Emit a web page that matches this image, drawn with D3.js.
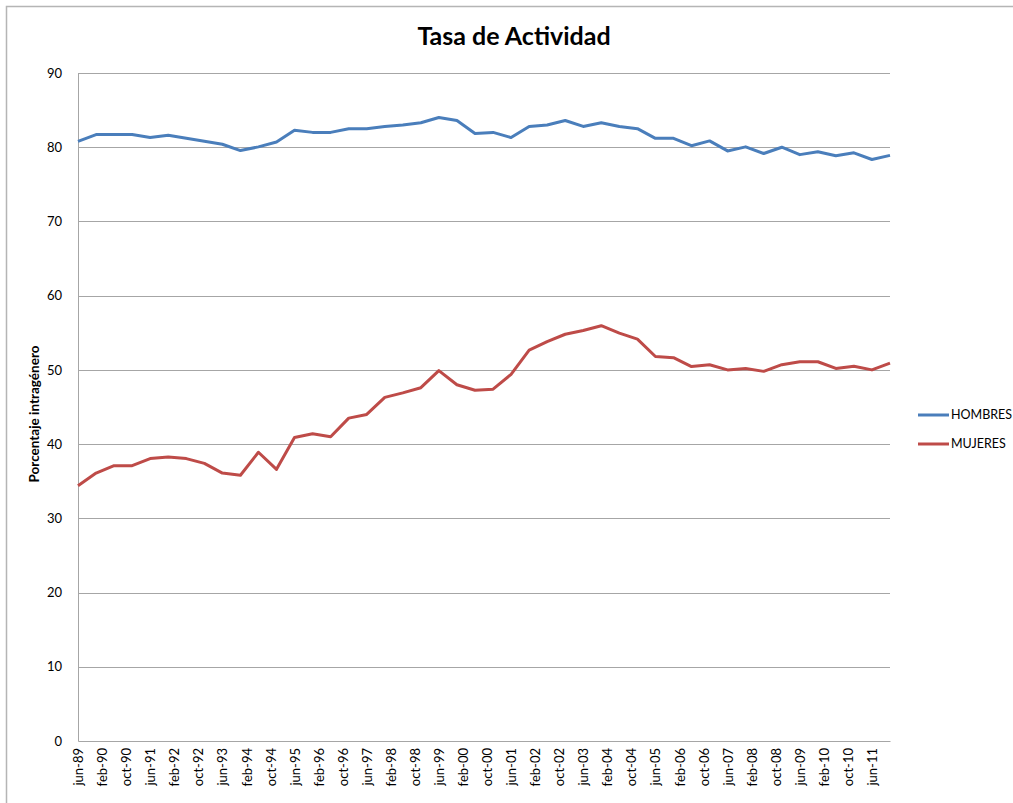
<!DOCTYPE html>
<html>
<head>
<meta charset="utf-8">
<script src="https://cdn.jsdelivr.net/npm/d3@7"></script>
<style>
  html, body { margin: 0; padding: 0; background: #fff; }
  svg { display: block; font-family: Lato, "Open Sans", sans-serif; }
</style>
</head>
<body>
<svg id="chart" width="1013" height="803"></svg>
<script>
// ---- data ----
const periods = [
  "jun-89","dic-89","jun-90","dic-90","jun-91","dic-91","jun-92","dic-92",
  "jun-93","dic-93","jun-94","dic-94","jun-95","dic-95","jun-96","dic-96",
  "jun-97","dic-97","jun-98","dic-98","jun-99","dic-99","jun-00","dic-00",
  "jun-01","dic-01","jun-02","dic-02","jun-03","dic-03","jun-04","dic-04",
  "jun-05","dic-05","jun-06","dic-06","jun-07","dic-07","jun-08","dic-08",
  "jun-09","dic-09","jun-10","dic-10","jun-11","dic-11"
];
const hombres = [
  80.8, 81.7, 81.7, 81.7, 81.3, 81.6, 81.2, 80.8, 80.4, 79.55,
  80.05, 80.7, 82.3, 82.0, 82.0, 82.5, 82.5, 82.8, 83.0, 83.3,
  84.0, 83.6, 81.85, 82.0, 81.3, 82.8, 83.0, 83.6, 82.8, 83.3,
  82.8, 82.5, 81.2, 81.2, 80.2, 80.85, 79.5, 80.05, 79.15, 80.0,
  79.0, 79.4, 78.85, 79.25, 78.35, 78.9
];
const mujeres = [
  34.4, 36.1, 37.1, 37.1, 38.05, 38.25, 38.05, 37.4, 36.1, 35.8,
  38.9, 36.6, 40.9, 41.4, 41.0, 43.5, 44.0, 46.3, 46.9, 47.6,
  49.9, 48.0, 47.25, 47.4, 49.4, 52.65, 53.8, 54.8, 55.3, 55.95,
  54.95, 54.15, 51.8, 51.65, 50.45, 50.7, 50.0, 50.2, 49.8, 50.7,
  51.1, 51.1, 50.2, 50.5, 50.0, 50.9
];
const tickLabels = [
  "jun-89","feb-90","oct-90","jun-91","feb-92","oct-92","jun-93","feb-94",
  "oct-94","jun-95","feb-96","oct-96","jun-97","feb-98","oct-98","jun-99",
  "feb-00","oct-00","jun-01","feb-02","oct-02","jun-03","feb-04","oct-04",
  "jun-05","feb-06","oct-06","jun-07","feb-08","oct-08","jun-09","feb-10",
  "oct-10","jun-11"
];
const yTicks = [0, 10, 20, 30, 40, 50, 60, 70, 80, 90];
const seriesNames = ["HOMBRES", "MUJERES"];
const seriesColors = ["#4a7ebb", "#be4b48"];
const title = "Tasa de Actividad";
const yTitle = "Porcentaje intragénero";

// ---- helpers ----
const monthIdx = {ene:0,feb:1,mar:2,abr:3,may:4,jun:5,jul:6,ago:7,sep:8,oct:9,nov:10,dic:11};
function parsePeriod(s) {
  const [m, y] = s.split("-");
  const yy = +y;
  return new Date(yy < 50 ? 2000 + yy : 1900 + yy, monthIdx[m], 1);
}

// ---- layout ----
const svg = d3.select("#chart");
const M = { left: 78, top: 73, right: 890, bottom: 741 };

// outer border
svg.append("rect")
  .attr("x", 6.5).attr("y", 6.5).attr("width", 1020).attr("height", 810)
  .attr("fill", "none").attr("stroke", "#b5b5b5").attr("stroke-width", 1.5);

const dates = periods.map(parsePeriod);
const x = d3.scaleTime()
  .domain([dates[0], dates[dates.length - 1]])
  .range([M.left, M.right]);
const y = d3.scaleLinear().domain([0, 90]).range([M.bottom, M.top]);

// gridlines
svg.append("g")
  .selectAll("line")
  .data(yTicks.filter(d => d > 0))
  .join("line")
  .attr("x1", M.left).attr("x2", M.right)
  .attr("y1", d => Math.round(y(d)) + 0.5).attr("y2", d => Math.round(y(d)) + 0.5)
  .attr("stroke", "#a6a6a6").attr("stroke-width", 1);

// y axis
const yAxis = svg.append("g")
  .attr("transform", `translate(${M.left},0)`)
  .call(d3.axisLeft(y).tickValues(yTicks).tickSize(0).tickPadding(16));
yAxis.select(".domain").attr("stroke", "#a6a6a6");
yAxis.selectAll("text").attr("font-size", 13).attr("fill", "#000")
  .attr("font-family", "Lato, sans-serif");

// x axis
const tickDates = tickLabels.map(parsePeriod);
const xAxis = svg.append("g")
  .attr("transform", `translate(0,${M.bottom})`)
  .call(d3.axisBottom(x).tickValues(tickDates).tickSize(0)
    .tickFormat((d, i) => tickLabels[i]));
xAxis.select(".domain").attr("stroke", "#a6a6a6");
xAxis.selectAll("text")
  .attr("font-size", 13).attr("fill", "#000")
  .attr("font-family", "Lato, sans-serif")
  .attr("transform", "rotate(-90)")
  .attr("text-anchor", "end")
  .attr("x", -7).attr("y", 0).attr("dy", "0.35em");

// lines
const lineGen = d3.line()
  .x((d, i) => x(dates[i]))
  .y(d => y(d));
[hombres, mujeres].forEach((vals, k) => {
  svg.append("path")
    .datum(vals)
    .attr("d", lineGen)
    .attr("fill", "none")
    .attr("stroke", seriesColors[k])
    .attr("stroke-width", 3)
    .attr("stroke-linejoin", "round");
});

// title
svg.append("text")
  .attr("x", 514).attr("y", 45)
  .attr("text-anchor", "middle")
  .attr("font-size", 25).attr("font-weight", "bold")
  .attr("fill", "#000")
  .text(title);

// y title
svg.append("text")
  .attr("transform", "translate(39,414) rotate(-90)")
  .attr("text-anchor", "middle")
  .attr("font-size", 13.5).attr("font-weight", "bold")
  .attr("fill", "#000")
  .text(yTitle);

// legend
const lg = svg.append("g");
seriesNames.forEach((name, k) => {
  const ly = 415 + k * 29;
  lg.append("line")
    .attr("x1", 918).attr("x2", 949)
    .attr("y1", ly).attr("y2", ly)
    .attr("stroke", seriesColors[k]).attr("stroke-width", 3);
  lg.append("text")
    .attr("x", 951).attr("y", ly).attr("dy", "0.35em")
    .attr("font-size", 12.5).attr("fill", "#000")
    .text(name);
});
</script>
</body>
</html>
